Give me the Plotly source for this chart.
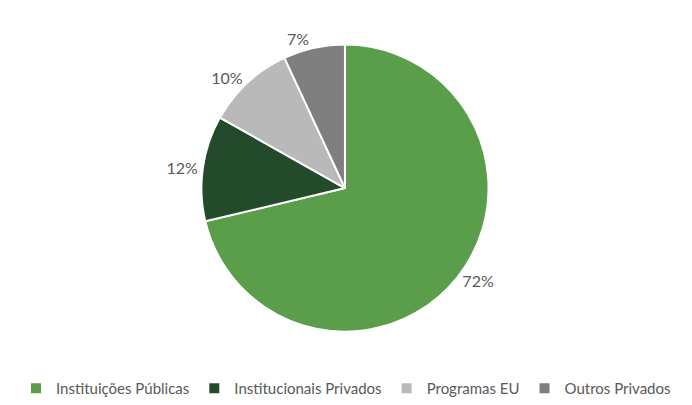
import plotly.graph_objects as go

# Funding sources and their shares (%)
categories = ["Instituições Públicas", "Institucionais Privados", "Programas EU", "Outros Privados"]
shares = [72, 12, 10, 7]
colors = ["#5a9e4b", "#234a2a", "#b9b9b9", "#7f7f7f"]

fig = go.Figure(
    go.Pie(
        labels=categories,
        values=shares,
        sort=False,
        direction="clockwise",
        rotation=0,
        marker=dict(colors=colors, line=dict(color="white", width=2)),
        texttemplate="%{value}%",
        textposition="outside",
        textfont=dict(family="Lato", size=16, color="#595959"),
        domain=dict(x=[0.289, 0.708], y=[0.173, 0.889]),
        hoverinfo="label+percent",
    )
)

fig.update_layout(
    width=692,
    height=405,
    margin=dict(l=0, r=0, t=0, b=0),
    paper_bgcolor="white",
    plot_bgcolor="white",
    font=dict(family="Lato", size=15, color="#595959"),
    showlegend=True,
    legend=dict(
        orientation="h",
        x=0.5,
        xanchor="center",
        y=0.03,
        yanchor="middle",
        font=dict(family="Lato", size=15, color="#595959"),
        itemwidth=30,
        tracegroupgap=0,
    ),
)

fig.write_html("out.html")
